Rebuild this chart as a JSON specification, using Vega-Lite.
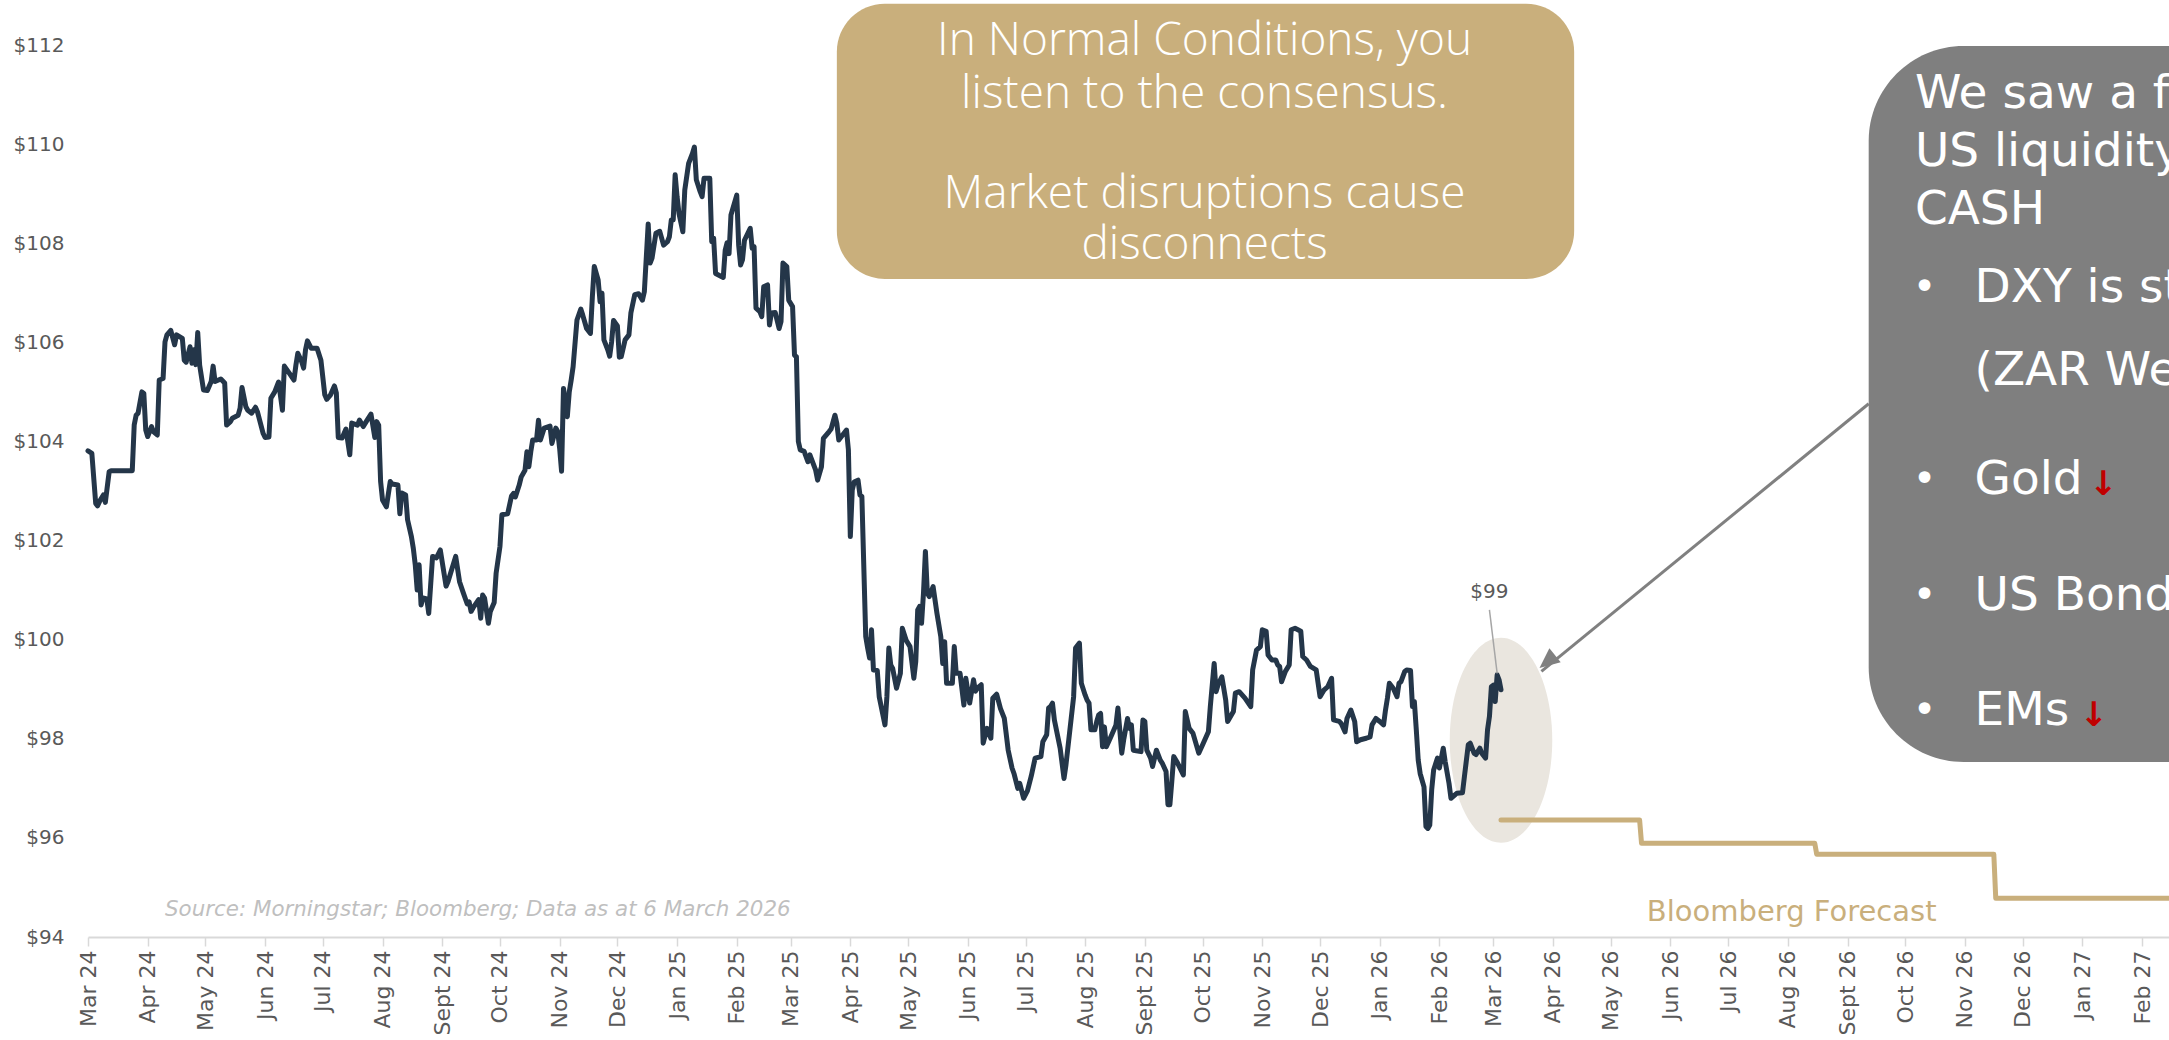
{
  "$schema": "https://vega.github.io/schema/vega-lite/v6.json",
  "width": 2081,
  "height": 892,
  "autosize": {"type": "none"},
  "padding": {"left": 88, "top": 45, "right": 0, "bottom": 103},
  "background": "white",
  "config": {"view": {"stroke": null}, "axis": {"grid": false}},
  "datasets": {
    "goldBox": [{"date": "2025-03-25", "date2": "2026-04-12", "value": 112.83, "value2": 107.28}],
    "grayBox": [{"date": "2026-09-12", "date2": "2027-06-30", "value": 111.98, "value2": 97.53}],
    "ellipse": [{"date": "2026-03-05", "value": 97.97}],
    "arrow": [{"date": "2026-09-12", "value": 104.76, "date2": "2026-03-26", "value2": 99.36}],
    "arrowHead": [{"date": "2026-03-25", "value": 99.43}],
    "leader": [{"date": "2026-02-27", "value": 100.6, "date2": "2026-03-03", "value2": 99.32}],
    "lastLabel": [{"date": "2026-02-27", "value": 100.96, "text": "$99"}],
    "goldText": [
      {"date": "2025-10-02", "value": 112.08, "text": "In Normal Conditions, you"},
      {"date": "2025-10-02", "value": 111.01, "text": "listen to the consensus."},
      {"date": "2025-10-02", "value": 108.99, "text": "Market disruptions cause"},
      {"date": "2025-10-02", "value": 107.96, "text": "disconnects"}
    ],
    "grayText": [
      {"date": "2026-10-06", "value": 111.01, "text": "We saw a flight to"},
      {"date": "2026-10-06", "value": 109.84, "text": "US liquidity"},
      {"date": "2026-10-06", "value": 108.67, "text": "CASH"},
      {"date": "2026-11-06", "value": 107.1, "text": "DXY is stronger"},
      {"date": "2026-11-06", "value": 105.42, "text": "(ZAR Weaker)"},
      {"date": "2026-11-06", "value": 103.22, "text": "Gold"},
      {"date": "2026-11-06", "value": 100.88, "text": "US Bonds"},
      {"date": "2026-11-06", "value": 98.56, "text": "EMs"}
    ],
    "bullets": [
      {"date": "2026-10-11", "value": 107.1, "text": "•"},
      {"date": "2026-10-11", "value": 103.22, "text": "•"},
      {"date": "2026-10-11", "value": 100.88, "text": "•"},
      {"date": "2026-10-11", "value": 98.56, "text": "•"}
    ],
    "redArrows": [
      {"date": "2027-01-12", "value": 103.12, "text": "↓"},
      {"date": "2027-01-07", "value": 98.46, "text": "↓"}
    ],
    "source": [{"date": "2024-04-10", "value": 94.55, "text": "Source: Morningstar; Bloomberg; Data as at 6 March 2026"}],
    "fcLabel": [{"date": "2026-08-03", "value": 94.5, "text": "Bloomberg Forecast"}],
    "forecast": [
      {"date": "2026-03-05", "value": 96.36},
      {"date": "2026-05-16", "value": 96.36},
      {"date": "2026-05-17", "value": 95.89},
      {"date": "2026-08-15", "value": 95.89},
      {"date": "2026-08-16", "value": 95.67},
      {"date": "2026-11-16", "value": 95.67},
      {"date": "2026-11-17", "value": 94.78},
      {"date": "2027-02-28", "value": 94.78}
    ],
    "dxy": [
      {"date": "2024-03-01", "value": 103.81},
      {"date": "2024-03-03", "value": 103.76},
      {"date": "2024-03-05", "value": 102.75},
      {"date": "2024-03-06", "value": 102.7},
      {"date": "2024-03-07", "value": 102.79},
      {"date": "2024-03-09", "value": 102.92},
      {"date": "2024-03-10", "value": 102.77},
      {"date": "2024-03-12", "value": 103.39},
      {"date": "2024-03-13", "value": 103.41},
      {"date": "2024-03-24", "value": 103.41},
      {"date": "2024-03-25", "value": 104.33},
      {"date": "2024-03-26", "value": 104.53},
      {"date": "2024-03-27", "value": 104.57},
      {"date": "2024-03-29", "value": 105.0},
      {"date": "2024-03-30", "value": 104.97},
      {"date": "2024-03-31", "value": 104.23},
      {"date": "2024-04-01", "value": 104.1},
      {"date": "2024-04-03", "value": 104.3},
      {"date": "2024-04-04", "value": 104.2},
      {"date": "2024-04-06", "value": 104.13},
      {"date": "2024-04-07", "value": 105.24},
      {"date": "2024-04-09", "value": 105.27},
      {"date": "2024-04-10", "value": 106.01},
      {"date": "2024-04-11", "value": 106.15},
      {"date": "2024-04-13", "value": 106.24},
      {"date": "2024-04-15", "value": 105.95},
      {"date": "2024-04-16", "value": 106.15},
      {"date": "2024-04-19", "value": 106.08},
      {"date": "2024-04-20", "value": 105.64},
      {"date": "2024-04-21", "value": 105.6},
      {"date": "2024-04-23", "value": 105.91},
      {"date": "2024-04-24", "value": 105.58},
      {"date": "2024-04-25", "value": 105.85},
      {"date": "2024-04-26", "value": 105.55},
      {"date": "2024-04-27", "value": 106.2},
      {"date": "2024-04-28", "value": 105.54},
      {"date": "2024-04-30", "value": 105.04},
      {"date": "2024-05-02", "value": 105.03},
      {"date": "2024-05-04", "value": 105.21},
      {"date": "2024-05-05", "value": 105.52},
      {"date": "2024-05-06", "value": 105.21},
      {"date": "2024-05-09", "value": 105.26},
      {"date": "2024-05-11", "value": 105.18},
      {"date": "2024-05-12", "value": 104.33},
      {"date": "2024-05-14", "value": 104.4},
      {"date": "2024-05-15", "value": 104.47},
      {"date": "2024-05-18", "value": 104.53},
      {"date": "2024-05-19", "value": 104.67},
      {"date": "2024-05-20", "value": 105.09},
      {"date": "2024-05-22", "value": 104.7},
      {"date": "2024-05-23", "value": 104.63},
      {"date": "2024-05-25", "value": 104.57},
      {"date": "2024-05-27", "value": 104.69},
      {"date": "2024-05-28", "value": 104.6},
      {"date": "2024-05-31", "value": 104.16},
      {"date": "2024-06-01", "value": 104.08},
      {"date": "2024-06-03", "value": 104.09},
      {"date": "2024-06-04", "value": 104.87},
      {"date": "2024-06-06", "value": 105.0},
      {"date": "2024-06-08", "value": 105.2},
      {"date": "2024-06-10", "value": 104.63},
      {"date": "2024-06-11", "value": 105.52},
      {"date": "2024-06-13", "value": 105.41},
      {"date": "2024-06-16", "value": 105.24},
      {"date": "2024-06-17", "value": 105.54},
      {"date": "2024-06-18", "value": 105.78},
      {"date": "2024-06-20", "value": 105.61},
      {"date": "2024-06-21", "value": 105.48},
      {"date": "2024-06-22", "value": 105.85},
      {"date": "2024-06-23", "value": 106.03},
      {"date": "2024-06-25", "value": 105.88},
      {"date": "2024-06-28", "value": 105.88},
      {"date": "2024-06-30", "value": 105.64},
      {"date": "2024-07-02", "value": 104.94},
      {"date": "2024-07-03", "value": 104.85},
      {"date": "2024-07-05", "value": 104.94},
      {"date": "2024-07-07", "value": 105.12},
      {"date": "2024-07-08", "value": 104.98},
      {"date": "2024-07-09", "value": 104.08},
      {"date": "2024-07-11", "value": 104.07},
      {"date": "2024-07-13", "value": 104.25},
      {"date": "2024-07-15", "value": 103.73},
      {"date": "2024-07-16", "value": 104.37},
      {"date": "2024-07-19", "value": 104.33},
      {"date": "2024-07-20", "value": 104.43},
      {"date": "2024-07-22", "value": 104.3},
      {"date": "2024-07-24", "value": 104.43},
      {"date": "2024-07-26", "value": 104.55},
      {"date": "2024-07-28", "value": 104.08},
      {"date": "2024-07-29", "value": 104.4},
      {"date": "2024-07-30", "value": 104.33},
      {"date": "2024-07-31", "value": 103.19},
      {"date": "2024-08-01", "value": 102.82},
      {"date": "2024-08-03", "value": 102.68},
      {"date": "2024-08-05", "value": 103.19},
      {"date": "2024-08-06", "value": 103.14},
      {"date": "2024-08-09", "value": 103.12},
      {"date": "2024-08-10", "value": 102.54},
      {"date": "2024-08-11", "value": 102.96},
      {"date": "2024-08-13", "value": 102.92},
      {"date": "2024-08-14", "value": 102.42},
      {"date": "2024-08-16", "value": 102.08},
      {"date": "2024-08-17", "value": 101.84},
      {"date": "2024-08-18", "value": 101.51},
      {"date": "2024-08-19", "value": 101.0},
      {"date": "2024-08-20", "value": 101.51},
      {"date": "2024-08-21", "value": 100.7},
      {"date": "2024-08-22", "value": 100.84},
      {"date": "2024-08-24", "value": 100.82},
      {"date": "2024-08-25", "value": 100.53},
      {"date": "2024-08-27", "value": 101.68},
      {"date": "2024-08-29", "value": 101.65},
      {"date": "2024-08-31", "value": 101.81},
      {"date": "2024-09-03", "value": 101.08},
      {"date": "2024-09-04", "value": 101.17},
      {"date": "2024-09-08", "value": 101.68},
      {"date": "2024-09-10", "value": 101.17},
      {"date": "2024-09-12", "value": 100.94},
      {"date": "2024-09-14", "value": 100.72},
      {"date": "2024-09-15", "value": 100.76},
      {"date": "2024-09-16", "value": 100.57},
      {"date": "2024-09-17", "value": 100.64},
      {"date": "2024-09-20", "value": 100.81},
      {"date": "2024-09-21", "value": 100.43},
      {"date": "2024-09-22", "value": 100.9},
      {"date": "2024-09-23", "value": 100.84},
      {"date": "2024-09-25", "value": 100.33},
      {"date": "2024-09-26", "value": 100.57},
      {"date": "2024-09-28", "value": 100.75},
      {"date": "2024-09-29", "value": 101.34},
      {"date": "2024-10-01", "value": 101.88},
      {"date": "2024-10-02", "value": 102.52},
      {"date": "2024-10-05", "value": 102.54},
      {"date": "2024-10-07", "value": 102.9},
      {"date": "2024-10-08", "value": 102.95},
      {"date": "2024-10-09", "value": 102.88},
      {"date": "2024-10-11", "value": 103.12},
      {"date": "2024-10-12", "value": 103.28},
      {"date": "2024-10-14", "value": 103.42},
      {"date": "2024-10-15", "value": 103.79},
      {"date": "2024-10-16", "value": 103.49},
      {"date": "2024-10-17", "value": 103.79},
      {"date": "2024-10-18", "value": 104.03},
      {"date": "2024-10-20", "value": 104.03},
      {"date": "2024-10-21", "value": 104.43},
      {"date": "2024-10-22", "value": 104.03},
      {"date": "2024-10-24", "value": 104.27},
      {"date": "2024-10-27", "value": 104.31},
      {"date": "2024-10-28", "value": 103.96},
      {"date": "2024-10-30", "value": 104.27},
      {"date": "2024-10-31", "value": 104.2},
      {"date": "2024-11-01", "value": 103.86},
      {"date": "2024-11-02", "value": 103.4},
      {"date": "2024-11-03", "value": 105.07},
      {"date": "2024-11-05", "value": 104.5},
      {"date": "2024-11-06", "value": 105.0},
      {"date": "2024-11-07", "value": 105.24},
      {"date": "2024-11-08", "value": 105.51},
      {"date": "2024-11-10", "value": 106.45},
      {"date": "2024-11-12", "value": 106.67},
      {"date": "2024-11-13", "value": 106.55},
      {"date": "2024-11-15", "value": 106.28},
      {"date": "2024-11-17", "value": 106.18},
      {"date": "2024-11-18", "value": 106.92},
      {"date": "2024-11-19", "value": 107.53},
      {"date": "2024-11-21", "value": 107.26},
      {"date": "2024-11-22", "value": 106.82},
      {"date": "2024-11-23", "value": 106.99},
      {"date": "2024-11-24", "value": 106.05},
      {"date": "2024-11-26", "value": 105.85},
      {"date": "2024-11-27", "value": 105.72},
      {"date": "2024-11-28", "value": 106.01},
      {"date": "2024-11-29", "value": 106.44},
      {"date": "2024-12-01", "value": 106.33},
      {"date": "2024-12-02", "value": 105.7},
      {"date": "2024-12-03", "value": 105.71},
      {"date": "2024-12-05", "value": 106.05},
      {"date": "2024-12-07", "value": 106.15},
      {"date": "2024-12-08", "value": 106.59},
      {"date": "2024-12-10", "value": 106.96},
      {"date": "2024-12-12", "value": 106.98},
      {"date": "2024-12-14", "value": 106.85},
      {"date": "2024-12-15", "value": 107.02},
      {"date": "2024-12-17", "value": 108.39},
      {"date": "2024-12-18", "value": 107.6},
      {"date": "2024-12-19", "value": 107.7},
      {"date": "2024-12-21", "value": 108.2},
      {"date": "2024-12-23", "value": 108.24},
      {"date": "2024-12-25", "value": 107.96},
      {"date": "2024-12-27", "value": 108.03},
      {"date": "2024-12-28", "value": 108.13},
      {"date": "2024-12-29", "value": 108.47},
      {"date": "2024-12-30", "value": 108.47},
      {"date": "2024-12-31", "value": 109.38},
      {"date": "2025-01-01", "value": 108.94},
      {"date": "2025-01-02", "value": 108.6},
      {"date": "2025-01-04", "value": 108.23},
      {"date": "2025-01-05", "value": 109.07},
      {"date": "2025-01-07", "value": 109.61},
      {"date": "2025-01-09", "value": 109.81},
      {"date": "2025-01-10", "value": 109.94},
      {"date": "2025-01-11", "value": 109.28},
      {"date": "2025-01-13", "value": 109.04},
      {"date": "2025-01-14", "value": 108.94},
      {"date": "2025-01-15", "value": 109.31},
      {"date": "2025-01-18", "value": 109.31},
      {"date": "2025-01-19", "value": 108.03},
      {"date": "2025-01-20", "value": 108.1},
      {"date": "2025-01-21", "value": 107.39},
      {"date": "2025-01-25", "value": 107.31},
      {"date": "2025-01-26", "value": 107.86},
      {"date": "2025-01-27", "value": 108.01},
      {"date": "2025-01-28", "value": 107.79},
      {"date": "2025-01-29", "value": 108.57},
      {"date": "2025-02-01", "value": 108.97},
      {"date": "2025-02-02", "value": 107.96},
      {"date": "2025-02-03", "value": 107.56},
      {"date": "2025-02-04", "value": 107.67},
      {"date": "2025-02-05", "value": 108.06},
      {"date": "2025-02-08", "value": 108.3},
      {"date": "2025-02-09", "value": 107.9},
      {"date": "2025-02-10", "value": 107.93},
      {"date": "2025-02-11", "value": 106.69},
      {"date": "2025-02-13", "value": 106.62},
      {"date": "2025-02-14", "value": 106.52},
      {"date": "2025-02-15", "value": 107.12},
      {"date": "2025-02-17", "value": 107.16},
      {"date": "2025-02-18", "value": 106.35},
      {"date": "2025-02-19", "value": 106.59},
      {"date": "2025-02-21", "value": 106.6},
      {"date": "2025-02-23", "value": 106.28},
      {"date": "2025-02-24", "value": 106.42},
      {"date": "2025-02-25", "value": 107.6},
      {"date": "2025-02-27", "value": 107.53},
      {"date": "2025-02-28", "value": 106.85},
      {"date": "2025-03-02", "value": 106.72},
      {"date": "2025-03-03", "value": 105.74},
      {"date": "2025-03-04", "value": 105.71},
      {"date": "2025-03-05", "value": 104.0},
      {"date": "2025-03-06", "value": 103.83},
      {"date": "2025-03-08", "value": 103.8},
      {"date": "2025-03-10", "value": 103.59},
      {"date": "2025-03-11", "value": 103.73},
      {"date": "2025-03-14", "value": 103.42},
      {"date": "2025-03-15", "value": 103.22},
      {"date": "2025-03-17", "value": 103.49},
      {"date": "2025-03-18", "value": 104.06},
      {"date": "2025-03-21", "value": 104.2},
      {"date": "2025-03-22", "value": 104.25},
      {"date": "2025-03-24", "value": 104.53},
      {"date": "2025-03-25", "value": 104.36},
      {"date": "2025-03-26", "value": 104.03},
      {"date": "2025-03-28", "value": 104.13},
      {"date": "2025-03-30", "value": 104.23},
      {"date": "2025-03-31", "value": 103.83},
      {"date": "2025-04-01", "value": 102.08},
      {"date": "2025-04-02", "value": 103.02},
      {"date": "2025-04-03", "value": 103.18},
      {"date": "2025-04-05", "value": 103.22},
      {"date": "2025-04-06", "value": 102.92},
      {"date": "2025-04-07", "value": 102.89},
      {"date": "2025-04-09", "value": 100.06},
      {"date": "2025-04-10", "value": 99.83},
      {"date": "2025-04-11", "value": 99.63},
      {"date": "2025-04-12", "value": 100.2},
      {"date": "2025-04-13", "value": 99.39},
      {"date": "2025-04-15", "value": 99.38},
      {"date": "2025-04-16", "value": 98.85},
      {"date": "2025-04-19", "value": 98.28},
      {"date": "2025-04-20", "value": 98.85},
      {"date": "2025-04-21", "value": 99.83},
      {"date": "2025-04-22", "value": 99.49},
      {"date": "2025-04-23", "value": 99.42},
      {"date": "2025-04-25", "value": 99.02},
      {"date": "2025-04-27", "value": 99.32},
      {"date": "2025-04-28", "value": 100.23},
      {"date": "2025-04-30", "value": 99.99},
      {"date": "2025-05-02", "value": 99.86},
      {"date": "2025-05-04", "value": 99.22},
      {"date": "2025-05-05", "value": 99.56},
      {"date": "2025-05-06", "value": 100.6},
      {"date": "2025-05-07", "value": 100.67},
      {"date": "2025-05-08", "value": 100.33},
      {"date": "2025-05-09", "value": 100.94},
      {"date": "2025-05-10", "value": 101.78},
      {"date": "2025-05-11", "value": 100.94},
      {"date": "2025-05-12", "value": 100.87},
      {"date": "2025-05-14", "value": 101.07},
      {"date": "2025-05-16", "value": 100.53},
      {"date": "2025-05-18", "value": 100.06},
      {"date": "2025-05-19", "value": 99.52},
      {"date": "2025-05-20", "value": 99.96},
      {"date": "2025-05-21", "value": 99.12},
      {"date": "2025-05-24", "value": 99.12},
      {"date": "2025-05-25", "value": 99.86},
      {"date": "2025-05-26", "value": 99.32},
      {"date": "2025-05-28", "value": 99.32},
      {"date": "2025-05-30", "value": 98.68},
      {"date": "2025-05-31", "value": 99.22},
      {"date": "2025-06-02", "value": 98.72},
      {"date": "2025-06-04", "value": 99.19},
      {"date": "2025-06-05", "value": 98.96},
      {"date": "2025-06-06", "value": 99.02},
      {"date": "2025-06-08", "value": 99.09},
      {"date": "2025-06-09", "value": 97.91},
      {"date": "2025-06-11", "value": 98.21},
      {"date": "2025-06-13", "value": 98.01},
      {"date": "2025-06-14", "value": 98.82},
      {"date": "2025-06-16", "value": 98.9},
      {"date": "2025-06-18", "value": 98.61},
      {"date": "2025-06-20", "value": 98.41},
      {"date": "2025-06-22", "value": 97.77},
      {"date": "2025-06-24", "value": 97.41},
      {"date": "2025-06-25", "value": 97.3},
      {"date": "2025-06-27", "value": 97.0},
      {"date": "2025-06-28", "value": 97.1},
      {"date": "2025-06-30", "value": 96.8},
      {"date": "2025-07-02", "value": 96.95},
      {"date": "2025-07-04", "value": 97.25},
      {"date": "2025-07-06", "value": 97.61},
      {"date": "2025-07-09", "value": 97.64},
      {"date": "2025-07-10", "value": 97.94},
      {"date": "2025-07-12", "value": 98.08},
      {"date": "2025-07-13", "value": 98.62},
      {"date": "2025-07-14", "value": 98.65},
      {"date": "2025-07-15", "value": 98.72},
      {"date": "2025-07-16", "value": 98.38},
      {"date": "2025-07-19", "value": 97.81},
      {"date": "2025-07-21", "value": 97.2},
      {"date": "2025-07-22", "value": 97.47},
      {"date": "2025-07-26", "value": 98.85},
      {"date": "2025-07-27", "value": 99.83},
      {"date": "2025-07-29", "value": 99.93},
      {"date": "2025-07-30", "value": 99.12},
      {"date": "2025-08-01", "value": 98.88},
      {"date": "2025-08-02", "value": 98.78},
      {"date": "2025-08-03", "value": 98.72},
      {"date": "2025-08-04", "value": 98.18},
      {"date": "2025-08-06", "value": 98.18},
      {"date": "2025-08-07", "value": 98.35},
      {"date": "2025-08-08", "value": 98.48},
      {"date": "2025-08-09", "value": 98.51},
      {"date": "2025-08-10", "value": 97.84},
      {"date": "2025-08-11", "value": 98.24},
      {"date": "2025-08-12", "value": 97.84},
      {"date": "2025-08-14", "value": 98.01},
      {"date": "2025-08-17", "value": 98.28},
      {"date": "2025-08-18", "value": 98.62},
      {"date": "2025-08-20", "value": 97.71},
      {"date": "2025-08-21", "value": 97.98},
      {"date": "2025-08-23", "value": 98.41},
      {"date": "2025-08-24", "value": 98.21},
      {"date": "2025-08-25", "value": 98.28},
      {"date": "2025-08-26", "value": 97.77},
      {"date": "2025-08-30", "value": 97.74},
      {"date": "2025-08-31", "value": 98.38},
      {"date": "2025-09-01", "value": 98.35},
      {"date": "2025-09-02", "value": 97.77},
      {"date": "2025-09-04", "value": 97.61},
      {"date": "2025-09-05", "value": 97.44},
      {"date": "2025-09-07", "value": 97.77},
      {"date": "2025-09-09", "value": 97.57},
      {"date": "2025-09-10", "value": 97.51},
      {"date": "2025-09-12", "value": 97.34},
      {"date": "2025-09-13", "value": 96.67},
      {"date": "2025-09-14", "value": 96.67},
      {"date": "2025-09-15", "value": 97.14},
      {"date": "2025-09-16", "value": 97.64},
      {"date": "2025-09-18", "value": 97.51},
      {"date": "2025-09-21", "value": 97.27},
      {"date": "2025-09-22", "value": 98.55},
      {"date": "2025-09-24", "value": 98.21},
      {"date": "2025-09-26", "value": 98.11},
      {"date": "2025-09-29", "value": 97.71},
      {"date": "2025-10-01", "value": 97.88},
      {"date": "2025-10-04", "value": 98.14},
      {"date": "2025-10-05", "value": 98.65},
      {"date": "2025-10-07", "value": 99.52},
      {"date": "2025-10-08", "value": 98.95},
      {"date": "2025-10-09", "value": 99.09},
      {"date": "2025-10-11", "value": 99.25},
      {"date": "2025-10-13", "value": 98.78},
      {"date": "2025-10-14", "value": 98.35},
      {"date": "2025-10-17", "value": 98.55},
      {"date": "2025-10-18", "value": 98.92},
      {"date": "2025-10-20", "value": 98.95},
      {"date": "2025-10-23", "value": 98.82},
      {"date": "2025-10-26", "value": 98.65},
      {"date": "2025-10-27", "value": 99.39},
      {"date": "2025-10-29", "value": 99.79},
      {"date": "2025-10-31", "value": 99.86},
      {"date": "2025-11-01", "value": 100.2},
      {"date": "2025-11-03", "value": 100.17},
      {"date": "2025-11-04", "value": 99.69},
      {"date": "2025-11-06", "value": 99.59},
      {"date": "2025-11-08", "value": 99.59},
      {"date": "2025-11-09", "value": 99.49},
      {"date": "2025-11-10", "value": 99.46},
      {"date": "2025-11-11", "value": 99.15},
      {"date": "2025-11-13", "value": 99.36},
      {"date": "2025-11-15", "value": 99.49},
      {"date": "2025-11-16", "value": 100.2},
      {"date": "2025-11-18", "value": 100.23},
      {"date": "2025-11-21", "value": 100.17},
      {"date": "2025-11-22", "value": 99.66},
      {"date": "2025-11-24", "value": 99.59},
      {"date": "2025-11-26", "value": 99.46},
      {"date": "2025-11-29", "value": 99.39},
      {"date": "2025-12-01", "value": 98.85},
      {"date": "2025-12-03", "value": 98.98},
      {"date": "2025-12-05", "value": 99.05},
      {"date": "2025-12-07", "value": 99.22},
      {"date": "2025-12-08", "value": 98.38},
      {"date": "2025-12-11", "value": 98.35},
      {"date": "2025-12-12", "value": 98.31},
      {"date": "2025-12-14", "value": 98.14},
      {"date": "2025-12-15", "value": 98.41},
      {"date": "2025-12-17", "value": 98.58},
      {"date": "2025-12-19", "value": 98.35},
      {"date": "2025-12-20", "value": 97.94},
      {"date": "2025-12-22", "value": 97.98},
      {"date": "2025-12-25", "value": 98.01},
      {"date": "2025-12-27", "value": 98.04},
      {"date": "2025-12-28", "value": 98.28},
      {"date": "2025-12-30", "value": 98.41},
      {"date": "2026-01-01", "value": 98.35},
      {"date": "2026-01-03", "value": 98.28},
      {"date": "2026-01-04", "value": 98.58},
      {"date": "2026-01-05", "value": 98.82},
      {"date": "2026-01-06", "value": 99.12},
      {"date": "2026-01-08", "value": 99.02},
      {"date": "2026-01-10", "value": 98.85},
      {"date": "2026-01-11", "value": 99.12},
      {"date": "2026-01-12", "value": 99.15},
      {"date": "2026-01-14", "value": 99.36},
      {"date": "2026-01-15", "value": 99.39},
      {"date": "2026-01-17", "value": 99.38},
      {"date": "2026-01-18", "value": 98.65},
      {"date": "2026-01-19", "value": 98.75},
      {"date": "2026-01-20", "value": 98.18},
      {"date": "2026-01-21", "value": 97.57},
      {"date": "2026-01-22", "value": 97.3},
      {"date": "2026-01-24", "value": 97.03},
      {"date": "2026-01-25", "value": 96.23},
      {"date": "2026-01-26", "value": 96.19},
      {"date": "2026-01-27", "value": 96.26},
      {"date": "2026-01-28", "value": 96.97},
      {"date": "2026-01-29", "value": 97.37},
      {"date": "2026-01-31", "value": 97.61},
      {"date": "2026-02-01", "value": 97.41},
      {"date": "2026-02-03", "value": 97.81},
      {"date": "2026-02-04", "value": 97.54},
      {"date": "2026-02-06", "value": 97.1},
      {"date": "2026-02-07", "value": 96.8},
      {"date": "2026-02-10", "value": 96.9},
      {"date": "2026-02-13", "value": 96.91},
      {"date": "2026-02-14", "value": 97.24},
      {"date": "2026-02-16", "value": 97.88},
      {"date": "2026-02-17", "value": 97.91},
      {"date": "2026-02-19", "value": 97.71},
      {"date": "2026-02-20", "value": 97.68},
      {"date": "2026-02-22", "value": 97.81},
      {"date": "2026-02-23", "value": 97.71},
      {"date": "2026-02-25", "value": 97.61},
      {"date": "2026-02-26", "value": 98.18},
      {"date": "2026-02-27", "value": 98.45},
      {"date": "2026-02-28", "value": 99.05},
      {"date": "2026-03-01", "value": 99.08},
      {"date": "2026-03-02", "value": 98.75},
      {"date": "2026-03-03", "value": 99.29},
      {"date": "2026-03-04", "value": 99.19},
      {"date": "2026-03-05", "value": 98.99}
    ]
  },
  "encoding": {
    "x": {
      "field": "date",
      "type": "temporal",
      "title": null,
      "scale": {
        "type": "utc",
        "nice": false,
        "domain": [{"year": 2024, "month": 3, "date": 1, "utc": true}, {"year": 2027, "month": 2, "date": 15, "utc": true}]
      },
      "axis": {
        "values": [
          {"year": 2024, "month": 3, "date": 1, "utc": true}, {"year": 2024, "month": 4, "date": 1, "utc": true},
          {"year": 2024, "month": 5, "date": 1, "utc": true}, {"year": 2024, "month": 6, "date": 1, "utc": true},
          {"year": 2024, "month": 7, "date": 1, "utc": true}, {"year": 2024, "month": 8, "date": 1, "utc": true},
          {"year": 2024, "month": 9, "date": 1, "utc": true}, {"year": 2024, "month": 10, "date": 1, "utc": true},
          {"year": 2024, "month": 11, "date": 1, "utc": true}, {"year": 2024, "month": 12, "date": 1, "utc": true},
          {"year": 2025, "month": 1, "date": 1, "utc": true}, {"year": 2025, "month": 2, "date": 1, "utc": true},
          {"year": 2025, "month": 3, "date": 1, "utc": true}, {"year": 2025, "month": 4, "date": 1, "utc": true},
          {"year": 2025, "month": 5, "date": 1, "utc": true}, {"year": 2025, "month": 6, "date": 1, "utc": true},
          {"year": 2025, "month": 7, "date": 1, "utc": true}, {"year": 2025, "month": 8, "date": 1, "utc": true},
          {"year": 2025, "month": 9, "date": 1, "utc": true}, {"year": 2025, "month": 10, "date": 1, "utc": true},
          {"year": 2025, "month": 11, "date": 1, "utc": true}, {"year": 2025, "month": 12, "date": 1, "utc": true},
          {"year": 2026, "month": 1, "date": 1, "utc": true}, {"year": 2026, "month": 2, "date": 1, "utc": true},
          {"year": 2026, "month": 3, "date": 1, "utc": true}, {"year": 2026, "month": 4, "date": 1, "utc": true},
          {"year": 2026, "month": 5, "date": 1, "utc": true}, {"year": 2026, "month": 6, "date": 1, "utc": true},
          {"year": 2026, "month": 7, "date": 1, "utc": true}, {"year": 2026, "month": 8, "date": 1, "utc": true},
          {"year": 2026, "month": 9, "date": 1, "utc": true}, {"year": 2026, "month": 10, "date": 1, "utc": true},
          {"year": 2026, "month": 11, "date": 1, "utc": true}, {"year": 2026, "month": 12, "date": 1, "utc": true},
          {"year": 2027, "month": 1, "date": 1, "utc": true}, {"year": 2027, "month": 2, "date": 1, "utc": true}
        ],
        "labelExpr": "['Jan','Feb','Mar','Apr','May','Jun','Jul','Aug','Sept','Oct','Nov','Dec'][utcmonth(datum.value)] + ' ' + utcFormat(datum.value, '%y')",
        "labelAngle": -90,
        "labelFont": "DejaVu Sans",
        "labelFontSize": 22,
        "labelColor": "#595959",
        "labelPadding": 4,
        "labelOverlap": false,
        "labelFlush": false,
        "labelBound": false,
        "domainColor": "#D9D9D9",
        "domainWidth": 2,
        "tickColor": "#D9D9D9",
        "tickWidth": 1.5,
        "tickSize": 9,
        "grid": false
      }
    },
    "y": {
      "field": "value",
      "type": "quantitative",
      "title": null,
      "scale": {"domain": [94, 112], "nice": false, "zero": false},
      "axis": {
        "values": [94, 96, 98, 100, 102, 104, 106, 108, 110, 112],
        "labelExpr": "'$' + datum.value",
        "domain": false,
        "ticks": false,
        "grid": false,
        "labelFont": "DejaVu Sans",
        "labelFontSize": 20,
        "labelColor": "#595959",
        "labelPadding": 24
      }
    }
  },
  "layer": [
    {
      "data": {"name": "goldBox", "format": {"parse": {"date": "date", "date2": "date"}}},
      "mark": {"type": "rect", "cornerRadius": 48, "color": "#C9AF7C", "clip": false},
      "encoding": {"x2": {"field": "date2"}, "y2": {"field": "value2"}}
    },
    {
      "data": {"name": "grayBox", "format": {"parse": {"date": "date", "date2": "date"}}},
      "mark": {"type": "rect", "cornerRadius": 95, "color": "#7F7F7F", "clip": false},
      "encoding": {"x2": {"field": "date2"}, "y2": {"field": "value2"}}
    },
    {
      "data": {"name": "ellipse"},
      "mark": {"type": "point", "shape": "M 0 -1 C 0.276 -1 0.5 -0.552 0.5 0 C 0.5 0.552 0.276 1 0 1 C -0.276 1 -0.5 0.552 -0.5 0 C -0.5 -0.552 -0.276 -1 0 -1 Z", "size": 42025, "filled": true, "color": "#EAE6DF", "opacity": 1, "strokeWidth": 0}
    },
    {
      "data": {"name": "arrow", "format": {"parse": {"date": "date", "date2": "date"}}},
      "mark": {"type": "rule", "color": "#808080", "strokeWidth": 3},
      "encoding": {"x2": {"field": "date2"}, "y2": {"field": "value2"}}
    },
    {
      "data": {"name": "arrowHead"},
      "mark": {"type": "point", "shape": "M 0 0 L -0.45 1 L 0.45 1 Z", "angle": 231, "size": 1600, "filled": true, "color": "#808080", "opacity": 1, "strokeWidth": 0}
    },
    {
      "data": {"name": "dxy"},
      "mark": {"type": "line", "color": "#243649", "strokeWidth": 5, "strokeJoin": "round", "strokeCap": "round"}
    },
    {
      "data": {"name": "forecast"},
      "mark": {"type": "line", "color": "#C9AF7C", "strokeWidth": 5, "strokeCap": "round", "strokeJoin": "round", "clip": true}
    },
    {
      "data": {"name": "leader", "format": {"parse": {"date": "date", "date2": "date"}}},
      "mark": {"type": "rule", "color": "#A6A6A6", "strokeWidth": 1.5},
      "encoding": {"x2": {"field": "date2"}, "y2": {"field": "value2"}}
    },
    {
      "data": {"name": "lastLabel"},
      "mark": {"type": "text", "font": "DejaVu Sans", "fontSize": 20, "color": "#595959", "align": "center", "baseline": "middle"},
      "encoding": {"text": {"field": "text"}}
    },
    {
      "data": {"name": "goldText"},
      "mark": {"type": "text", "font": "Open Sans", "fontWeight": 300, "fontSize": 46, "color": "#FFFFFF", "align": "center", "baseline": "middle", "clip": false},
      "encoding": {"text": {"field": "text"}}
    },
    {
      "data": {"name": "grayText"},
      "mark": {"type": "text", "font": "DejaVu Sans", "fontSize": 47, "color": "#FFFFFF", "align": "left", "baseline": "middle"},
      "encoding": {"text": {"field": "text"}}
    },
    {
      "data": {"name": "bullets"},
      "mark": {"type": "text", "font": "DejaVu Sans", "fontSize": 40, "color": "#FFFFFF", "align": "center", "baseline": "middle"},
      "encoding": {"text": {"field": "text"}}
    },
    {
      "data": {"name": "redArrows"},
      "mark": {"type": "text", "font": "DejaVu Sans", "fontSize": 34, "fontWeight": "bold", "color": "#C00000", "align": "center", "baseline": "middle"},
      "encoding": {"text": {"field": "text"}}
    },
    {
      "data": {"name": "source"},
      "mark": {"type": "text", "font": "DejaVu Sans", "fontSize": 21.4, "fontStyle": "italic", "color": "#BFBFBF", "align": "left", "baseline": "middle"},
      "encoding": {"text": {"field": "text"}}
    },
    {
      "data": {"name": "fcLabel"},
      "mark": {"type": "text", "font": "DejaVu Sans", "fontSize": 29, "color": "#C9AF7C", "align": "center", "baseline": "middle"},
      "encoding": {"text": {"field": "text"}}
    }
  ]
}
